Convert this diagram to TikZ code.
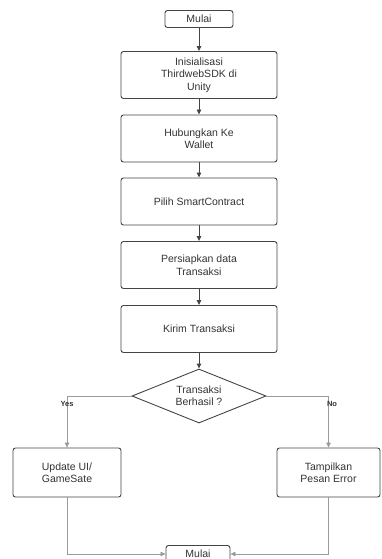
\documentclass[tikz,border=0pt]{standalone}
\usepackage{fontspec}
\setmainfont{Liberation Sans}
\usetikzlibrary{shapes.geometric,arrows.meta}
\definecolor{bord}{HTML}{444444}
\definecolor{txt}{HTML}{333333}
\definecolor{lgray}{HTML}{9A9A9A}
\begin{document}
\begin{tikzpicture}[x=1pt,y=-1pt,
  box/.style={draw=bord,line width=0.9pt,rounded corners=2.5pt,minimum width=156pt,minimum height=47pt,align=center,text=txt,font=\fontsize{10.5}{12.5}\selectfont,inner sep=1pt},
  term/.style={draw=bord,line width=0.9pt,rounded corners=2.5pt,minimum width=68pt,minimum height=17pt,text=txt,font=\fontsize{10.5}{11}\selectfont,inner sep=1pt},
  dec/.style={draw=bord,line width=0.9pt,shape=diamond,aspect=2.5,minimum width=134pt,minimum height=54pt,align=center,text=txt,font=\fontsize{10.5}{12}\selectfont,inner sep=0pt},
  arr/.style={draw=bord,line width=0.9pt,-{Triangle[length=5pt,width=4.5pt]}},
  garr/.style={draw=lgray,line width=0.6pt,-{Triangle[length=5pt,width=4.5pt]},color=lgray},
  lab/.style={font=\bfseries\fontsize{7.5}{8}\selectfont,text=txt}
]
\useasboundingbox (0,0) rectangle (381,559);
\node[term] (start) at (199,19) {Mulai};
\node[box] (b1) at (199,75) {Inisialisasi\\ThirdwebSDK di\\Unity};
\node[box] (b2) at (199,138.5) {Hubungkan Ke\\Wallet};
\node[box] (b3) at (199,201.5) {Pilih SmartContract};
\node[box] (b4) at (199,265) {Persiapkan data\\Transaksi};
\node[box] (b5) at (199,329) {Kirim Transaksi};
\node[dec] (d) at (199,396) {Transaksi\\Berhasil ?};
\node[box,minimum width=108pt,minimum height=49pt] (l) at (67,472.5) {Update UI/\\GameSate};
\node[box,minimum width=103pt,minimum height=49pt] (r) at (328.5,472.5) {Tampilkan\\Pesan Error};
\node[term,minimum width=64pt] (end) at (198,554) {Mulai};
\draw[arr] (start) -- (b1);
\draw[arr] (b1) -- (b2);
\draw[arr] (b2) -- (b3);
\draw[arr] (b3) -- (b4);
\draw[arr] (b4) -- (b5);
\draw[arr] (b5) -- (d);
\draw[garr] (d.west) -| (l.north);
\draw[garr] (d.east) -| (r.north);
\node[lab] (yes) at (67,403.5) {Yes};
\node[lab] (no) at (332,403.5) {No};
\draw[garr] (l.south) |- (end.west);
\draw[garr] (r.south) |- (end.east);
\end{tikzpicture}
\end{document}
